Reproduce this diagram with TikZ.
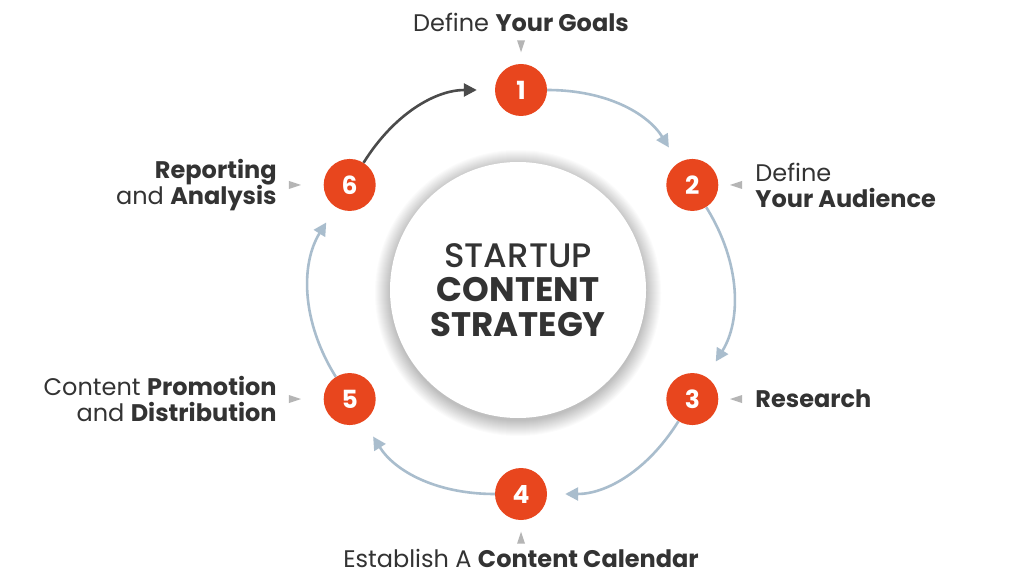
\documentclass[tikz,border=0pt]{standalone}
\usepackage{fontspec}
\setmainfont{Poppins}
\IfFontExistsTF{Poppins Medium}
  {\newfontfamily\halfbold{Poppins Medium}}
  {\IfFontExistsTF{Poppins-Medium}
    {\newfontfamily\halfbold{Poppins-Medium}}
    {\IfFontExistsTF{Poppins-SemiBold}
      {\newfontfamily\halfbold{Poppins-SemiBold}}
      {\newfontfamily\halfbold{Poppins}}}}
\usetikzlibrary{positioning,arrows.meta,shapes.geometric}
\definecolor{steporange}{HTML}{E8461E}
\definecolor{arcblue}{HTML}{A9BDCD}
\definecolor{arcdark}{HTML}{4B4B4B}
\definecolor{inkgray}{HTML}{333333}
\definecolor{tipgray}{HTML}{B5B5B5}

\begin{document}
\begin{tikzpicture}[x=1pt,y=1pt]
\tikzset{
  numnoeud/.style={circle, fill=steporange, minimum size=52pt, inner sep=0pt,
    text=white, font=\fontsize{25}{25}\selectfont\bfseries},
  fleche/.style={draw=arcblue, line width=2.6pt, shorten >=18pt,
    -{Triangle[length=13pt,width=13pt]}},
  pointe/.style={isosceles triangle, isosceles triangle stretches, fill=tipgray,
    inner sep=0pt, minimum height=12pt, minimum width=8pt},
  etiquette/.style={text=inkgray, inner sep=0pt, font=\fontsize{24}{26}\selectfont}
}
\useasboundingbox (0,0) rectangle (1024,576);
\fill[white] (0,0) rectangle (1024,576);
\begin{scope}[shift={(521,284)}]
% soft shadow round the middle disc
\foreach \r in {1,...,16}
  \fill[black, opacity=0.014] (-3,-1) circle (127+\r);
\node[circle, fill=white, minimum size=256pt, inner sep=0pt] (core) at (-3,2) {};
\node[text=inkgray, align=center, font=\fontsize{34}{34.5}\selectfont] at (core)
  {{\halfbold STARTUP}\\\textbf{CONTENT}\\\textbf{STRATEGY}};
% the six steps
\node[numnoeud] (n1) at (90:202) {1};
\node[numnoeud] (n2) at (32:202) {2};
\node[numnoeud] (n3) at (-32:202) {3};
\node[numnoeud] (n4) at (-90:202) {4};
\node[numnoeud] (n5) at (212:202) {5};
\node[numnoeud] (n6) at (148:202) {6};
\draw[fleche] (n1) to[bend left=29] (n2);
\draw[fleche] (n2) to[bend left=32] (n3);
\draw[fleche] (n3) to[bend left=29] (n4);
\draw[fleche] (n4) to[bend left=29] (n5);
\draw[fleche] (n5) to[bend left=32] (n6);
\draw[fleche, draw=arcdark] (n6) to[bend left=29] (n1);
% pointers and labels
\node[pointe, shape border rotate=270, above=11pt of n1] (p1) {};
\node[pointe, shape border rotate=180, right=11pt of n2] (p2) {};
\node[pointe, shape border rotate=180, right=11pt of n3] (p3) {};
\node[pointe, shape border rotate=90, below=11pt of n4] (p4) {};
\node[pointe, left=22pt of n5] (p5) {};
\node[pointe, left=22pt of n6] (p6) {};
\node[etiquette, above=8pt of p1] (l1) {Define \textbf{Your Goals}};
\node[etiquette, align=left, right=13pt of p2] (l2) {Define\\\textbf{Your Audience}};
\node[etiquette, right=13pt of p3] (l3) {\textbf{Research}};
\node[etiquette, below=5pt of p4] (l4) {Establish A \textbf{Content Calendar}};
\node[etiquette, align=right, left=12pt of p5] (l5) {Content \textbf{Promotion}\\and \textbf{Distribution}};
\node[etiquette, align=right, left=12pt of p6] (l6) {\textbf{Reporting}\\and \textbf{Analysis}};
\end{scope}
\end{tikzpicture}
\end{document}
